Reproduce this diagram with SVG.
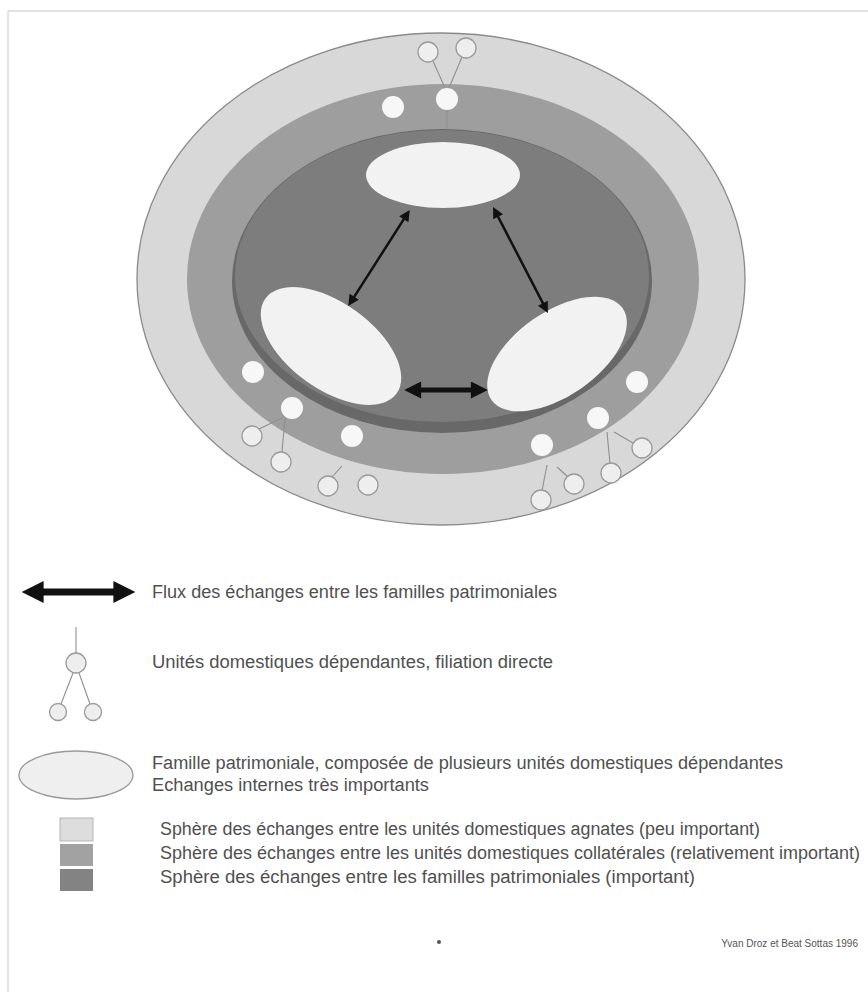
<svg xmlns="http://www.w3.org/2000/svg" width="868" height="992" viewBox="0 0 868 992">
<style>
.lbl{font-family:"Liberation Sans",Arial,sans-serif;font-size:18px;fill:#505050}
.cred{font-family:"Liberation Sans",Arial,sans-serif;font-size:10px;fill:#555}
.fam{fill:#f2f2f2}
.ud{fill:#f7f7f7}
.dep{fill:#eeeeee;stroke:#9a9a9a;stroke-width:1.3}
.tie{stroke:#8f8f8f;stroke-width:1.1;fill:none}
.arr{stroke:#111;fill:none}
</style>
<defs>
<marker id="ah-s" viewBox="0 0 10 10" refX="3" refY="5" markerWidth="14" markerHeight="11" markerUnits="userSpaceOnUse" orient="auto-start-reverse"><path d="M0,0 L10,5 L0,10 z" fill="#111"/></marker>
<marker id="ah-m" viewBox="0 0 10 10" refX="3" refY="5" markerWidth="20" markerHeight="17" markerUnits="userSpaceOnUse" orient="auto-start-reverse"><path d="M0,0 L10,5 L0,10 z" fill="#111"/></marker>
<marker id="ah-l" viewBox="0 0 10 10" refX="3" refY="5" markerWidth="24" markerHeight="22" markerUnits="userSpaceOnUse" orient="auto-start-reverse"><path d="M0,0 L10,5 L0,10 z" fill="#111"/></marker>
</defs>
<rect width="868" height="992" fill="#ffffff"/>
<g id="frame">
<line x1="8" y1="11" x2="868" y2="11" stroke="#c4c4c4" stroke-width="1.2"/>
<line x1="8" y1="11" x2="8" y2="992" stroke="#d2d2d2" stroke-width="1.2"/>
</g>
<g id="spheres">
<ellipse id="sphere-agnates" cx="441" cy="279" rx="304" ry="246" fill="#d8d8d8" stroke="#8a8a8a" stroke-width="1.3"/>
<ellipse id="sphere-collaterales" cx="443" cy="279" rx="256" ry="195" fill="#9e9e9e"/>
<ellipse cx="442" cy="281" rx="210" ry="152" fill="#686868"/>
<ellipse id="sphere-patrimoniales" cx="442" cy="276" rx="207" ry="146" fill="#7d7d7d"/>
</g>
<g id="family-top"><ellipse class="fam" cx="443" cy="175" rx="77" ry="33"/></g>
<g id="family-left"><ellipse class="fam" cx="331" cy="346" rx="81" ry="43" transform="rotate(36 331 346)"/></g>
<g id="family-right"><ellipse class="fam" cx="557" cy="354" rx="80" ry="42" transform="rotate(-35 557 354)"/></g>
<g id="units-collateral">
<circle class="ud" cx="393" cy="107" r="11"/>
<circle class="ud" cx="447" cy="99" r="11"/>
<circle class="ud" cx="253" cy="372" r="11"/>
<circle class="ud" cx="292" cy="408" r="11"/>
<circle class="ud" cx="352" cy="436" r="11"/>
<circle class="ud" cx="542" cy="445" r="11"/>
<circle class="ud" cx="598" cy="418" r="11"/>
<circle class="ud" cx="637" cy="382" r="11"/>
</g>
<g id="connectors">
<line class="tie" x1="447" y1="110" x2="447" y2="129"/>
<line class="tie" x1="433" y1="61" x2="445" y2="88"/>
<line class="tie" x1="462" y1="57" x2="449" y2="88"/>
<line class="tie" x1="259" y1="429" x2="284" y2="417"/>
<line class="tie" x1="282" y1="452" x2="285" y2="418"/>
<line class="tie" x1="332" y1="477" x2="342" y2="466"/>
<line class="tie" x1="542" y1="491" x2="547" y2="465"/>
<line class="tie" x1="568" y1="477" x2="557" y2="467"/>
<line class="tie" x1="610" y1="464" x2="607" y2="432"/>
<line class="tie" x1="633" y1="443" x2="614" y2="432"/>
<line class="arr" x1="405.6" y1="216.4" x2="352.4" y2="299.6" stroke-width="2.5" marker-start="url(#ah-s)" marker-end="url(#ah-s)"/>
<line class="arr" x1="496.6" y1="213.9" x2="544.4" y2="306.1" stroke-width="2.5" marker-start="url(#ah-s)" marker-end="url(#ah-s)"/>
<line class="arr" x1="416" y1="390" x2="476" y2="390" stroke-width="5" marker-start="url(#ah-m)" marker-end="url(#ah-m)"/>
</g>
<g id="units-dependent">
<circle class="dep" cx="428" cy="52" r="10"/>
<circle class="dep" cx="466" cy="48" r="10"/>
<circle class="dep" cx="252" cy="436" r="10"/>
<circle class="dep" cx="281" cy="462" r="10"/>
<circle class="dep" cx="328" cy="486" r="10"/>
<circle class="dep" cx="368" cy="485" r="10"/>
<circle class="dep" cx="541" cy="500" r="10"/>
<circle class="dep" cx="574" cy="484" r="10"/>
<circle class="dep" cx="611" cy="473" r="10"/>
<circle class="dep" cx="642" cy="448" r="10"/>
</g>
<g id="legend-flux">
<line class="arr" x1="37" y1="592" x2="120" y2="592" stroke-width="7" marker-start="url(#ah-l)" marker-end="url(#ah-l)"/>
<text class="lbl" x="152" y="598" textLength="405" lengthAdjust="spacingAndGlyphs">Flux des échanges entre les familles patrimoniales</text>
</g>
<g id="legend-units">
<line class="tie" x1="76" y1="627" x2="76" y2="653"/>
<circle class="dep" cx="76" cy="663" r="10"/>
<line class="tie" x1="73" y1="673" x2="61" y2="704"/>
<line class="tie" x1="79" y1="673" x2="90" y2="704"/>
<circle class="dep" cx="58" cy="712" r="8.5"/>
<circle class="dep" cx="93" cy="712" r="8.5"/>
<text class="lbl" x="152" y="668" textLength="401" lengthAdjust="spacingAndGlyphs">Unités domestiques dépendantes, filiation directe</text>
</g>
<g id="legend-family">
<ellipse cx="76" cy="775" rx="57" ry="24" fill="#efefef" stroke="#9a9a9a" stroke-width="1.3"/>
<text class="lbl" x="152" y="769" textLength="631" lengthAdjust="spacingAndGlyphs">Famille patrimoniale, composée de plusieurs unités domestiques dépendantes</text>
<text class="lbl" x="152" y="791" textLength="277" lengthAdjust="spacingAndGlyphs">Echanges internes très importants</text>
</g>
<g id="legend-spheres">
<rect x="60" y="818" width="33" height="23" fill="#dddddd" stroke="#b5b5b5" stroke-width="1"/>
<rect x="60" y="844" width="33" height="22" fill="#a2a2a2"/>
<rect x="60" y="869" width="33" height="22" fill="#838383"/>
<text class="lbl" x="160" y="835" textLength="600" lengthAdjust="spacingAndGlyphs">Sphère des échanges entre les unités domestiques agnates (peu important)</text>
<text class="lbl" x="160" y="859" textLength="700" lengthAdjust="spacingAndGlyphs">Sphère des échanges entre les unités domestiques collatérales (relativement important)</text>
<text class="lbl" x="160" y="883" textLength="535" lengthAdjust="spacingAndGlyphs">Sphère des échanges entre les familles patrimoniales (important)</text>
</g>
<g id="credit">
<circle cx="439" cy="942" r="2" fill="#555"/>
<text class="cred" x="858" y="947" text-anchor="end">Yvan Droz et Beat Sottas 1996</text>
</g>
</svg>
